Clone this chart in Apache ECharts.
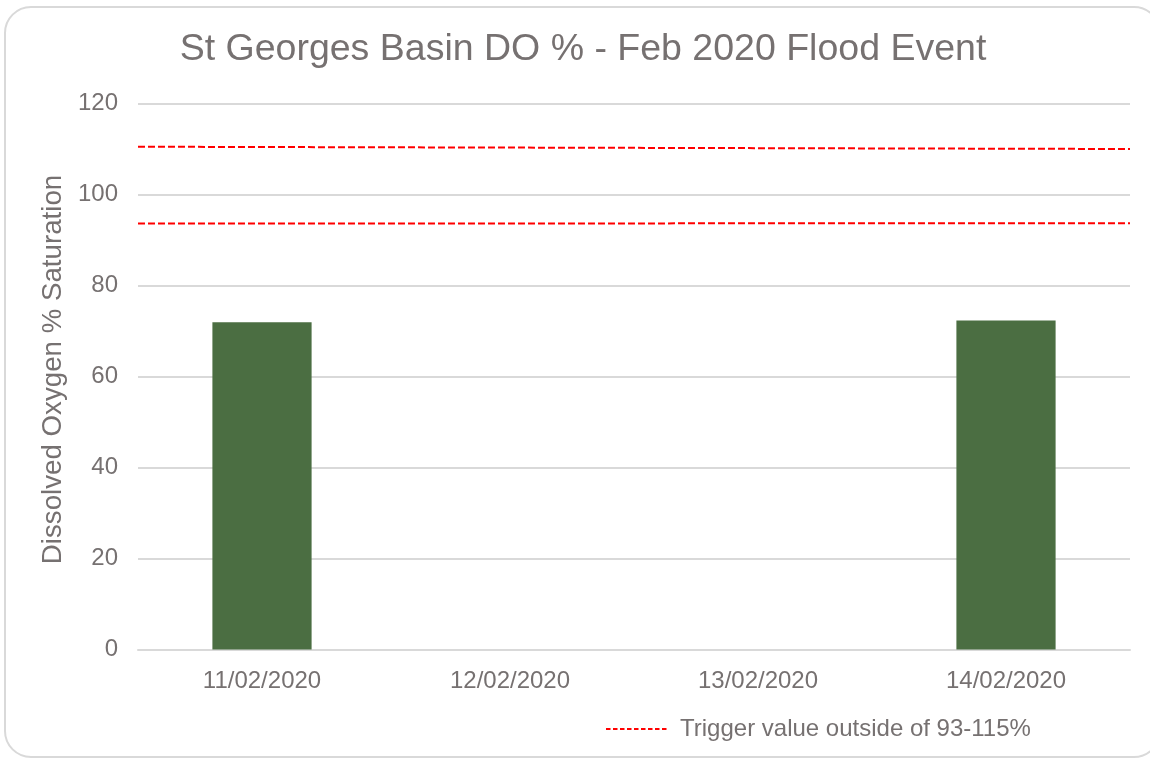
<!DOCTYPE html>
<html>
<head>
<meta charset="utf-8">
<title>St Georges Basin DO %</title>
<script src="https://cdn.jsdelivr.net/npm/echarts@6/dist/echarts.min.js"></script>
<style>
  html, body { margin: 0; padding: 0; background: #ffffff; }
  #chart { width: 1150px; height: 758px; }
</style>
</head>
<body>
<div id="chart"></div>
<script>
// Sampling dates and measured dissolved oxygen (% saturation)
const categories = ['11/02/2020', '12/02/2020', '13/02/2020', '14/02/2020'];
const doSaturation = [71.9, null, null, 72.3];

// Trigger guide lines, drawn across the full width of the plot (start, end)
const triggerSpan = [0, 1];
const upperTrigger = [110.5, 110.0];
const lowerTrigger = [93.6, 93.7];

const yTicks = { min: 0, max: 120, interval: 20 };

const textColor = '#767171';
const fontFamily = '"Liberation Sans", Arial, sans-serif';

function spanPoints(values) {
  return triggerSpan.map((x, i) => [x, values[i]]);
}

const chart = echarts.init(document.getElementById('chart'), null, { renderer: 'canvas' });

const triggerLine = {
  color: '#ff0000',
  width: 2,
  type: [7, 3]
};

chart.setOption({
  backgroundColor: '#ffffff',
  animation: false,
  graphic: [{
    type: 'rect',
    shape: { x: 5, y: 7, width: 1155, height: 750, r: 26 },
    style: { fill: 'none', stroke: '#d9d9d9', lineWidth: 2 },
    silent: true,
    z: -1
  }],
  title: {
    text: 'St Georges Basin DO % - Feb 2020 Flood Event',
    left: 578,
    top: 26,
    textAlign: 'center',
    textStyle: {
      color: textColor,
      fontFamily: fontFamily,
      fontSize: 37.5,
      fontWeight: 'normal'
    }
  },
  legend: {
    left: 600,
    top: 712,
    itemWidth: 61,
    itemHeight: 20,
    data: ['Trigger value outside of 93-115%'],
    // dashed line only, no marker dot
    itemStyle: { opacity: 0 },
    lineStyle: { type: [4.5, 2.5], width: 2 },
    textStyle: {
      color: textColor,
      fontFamily: fontFamily,
      fontSize: 24,
      padding: [0, 0, 0, 8]
    }
  },
  grid: {
    left: 138,
    right: 20,
    top: 103.5,
    bottom: 108.5,
    containLabel: false
  },
  xAxis: [{
    type: 'category',
    data: categories,
    axisLine: { show: true, lineStyle: { color: '#d9d9d9', width: 2 } },
    axisTick: { show: false },
    axisLabel: {
      color: textColor,
      fontFamily: fontFamily,
      fontSize: 24,
      margin: 20
    }
  }, {
    type: 'value',
    min: 0,
    max: 1,
    show: false
  }],
  yAxis: {
    type: 'value',
    min: yTicks.min,
    max: yTicks.max,
    interval: yTicks.interval,
    name: 'Dissolved Oxygen % Saturation',
    nameLocation: 'middle',
    nameGap: 70,
    nameRotate: 90,
    nameTextStyle: {
      color: textColor,
      fontFamily: fontFamily,
      fontSize: 27.7,
      padding: [0, 0, 0, 14]
    },
    axisLine: { show: false },
    axisTick: { show: false },
    axisLabel: {
      color: textColor,
      fontFamily: fontFamily,
      fontSize: 24,
      margin: 20
    },
    splitLine: { lineStyle: { color: '#d9d9d9', width: 2 } }
  },
  series: [{
    name: 'DO % Saturation',
    type: 'bar',
    data: doSaturation,
    barWidth: '40%',
    itemStyle: { color: '#4b6e42' },
    z: 2
  }, {
    name: 'Trigger value outside of 93-115%',
    type: 'line',
    xAxisIndex: 1,
    data: spanPoints(upperTrigger),
    symbol: 'none',
    lineStyle: triggerLine,
    itemStyle: { color: '#ff0000' },
    z: 3
  }, {
    name: 'Trigger value outside of 93-115%',
    type: 'line',
    xAxisIndex: 1,
    data: spanPoints(lowerTrigger),
    symbol: 'none',
    lineStyle: triggerLine,
    itemStyle: { color: '#ff0000' },
    z: 3
  }]
});
</script>
</body>
</html>
